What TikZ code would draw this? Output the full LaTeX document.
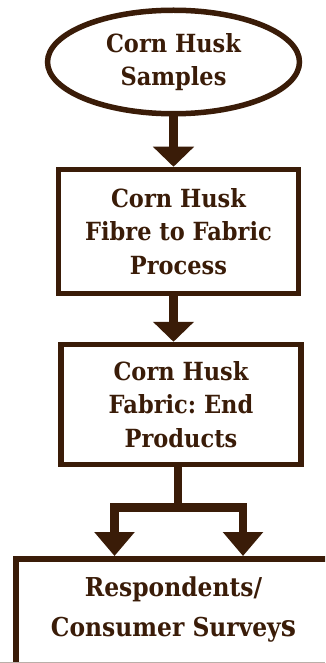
\documentclass[tikz,border=0pt]{standalone}
\usepackage{fontspec}
\setmainfont{DejaVu Serif}[FakeStretch=0.9]
\usetikzlibrary{shapes.geometric,arrows.meta}
\definecolor{brn}{RGB}{58,28,8}
\frenchspacing
\begin{document}
\begin{tikzpicture}[x=1pt,y=-1pt,
  every node/.style={text=brn, font=\bfseries\fontsize{25}{33.5}\selectfont, align=center, inner sep=0pt},
  shapebox/.style={draw=brn, line width=5.5pt},
  stem/.style={draw=brn, line width=8.5pt},
  arr/.style={stem, -{Triangle[width=40pt,length=20pt]}},
  arrs/.style={stem, line join=miter, -{Triangle[width=39pt,length=24pt]}}
]
\useasboundingbox (0,0) rectangle (325,663);
\clip (0,0) rectangle (325,663);
\fill[white] (0,0) rectangle (325,663);
\node[shapebox, ellipse, minimum width=252pt, minimum height=103.5pt] (ell) at (173.5,62) {Corn Husk\\Samples};
\node[shapebox, minimum width=240pt, minimum height=124pt] (b2) at (178.5,231.5) {Corn Husk\\Fibre to Fabric\\Process};
\node[shapebox, minimum width=240pt, minimum height=120pt] (b3) at (181,404.5) {Corn Husk\\Fabric: End\\Products};
\node[shapebox, anchor=north west, minimum width=330pt, minimum height=115pt] (b4) at (13,556) {};
\node[font=\bfseries\fontsize{26}{40}\selectfont] (t4) at (173.5,610) {Respondents/\\Consumer Survey{\fontsize{30}{40}\selectfont s}};
\draw[line width=1pt, brn!35] (0,662.5) -- (325,662.5);
\draw[arr] (ell.south) -- (ell.south |- b2.north);
\draw[arr] (b2.south -| ell.south) -- (b3.north -| ell.south);
\coordinate (sp) at (178,507.5);
\coordinate (spl) at (114.5,507.5);
\coordinate (spr) at (243,507.5);
\draw[stem] (b3.south -| sp) -- (sp);
\draw[arrs] (sp) -- (spl) -- (spl |- b4.north);
\draw[arrs] (sp) -- (spr) -- (spr |- b4.north);
\end{tikzpicture}
\end{document}
